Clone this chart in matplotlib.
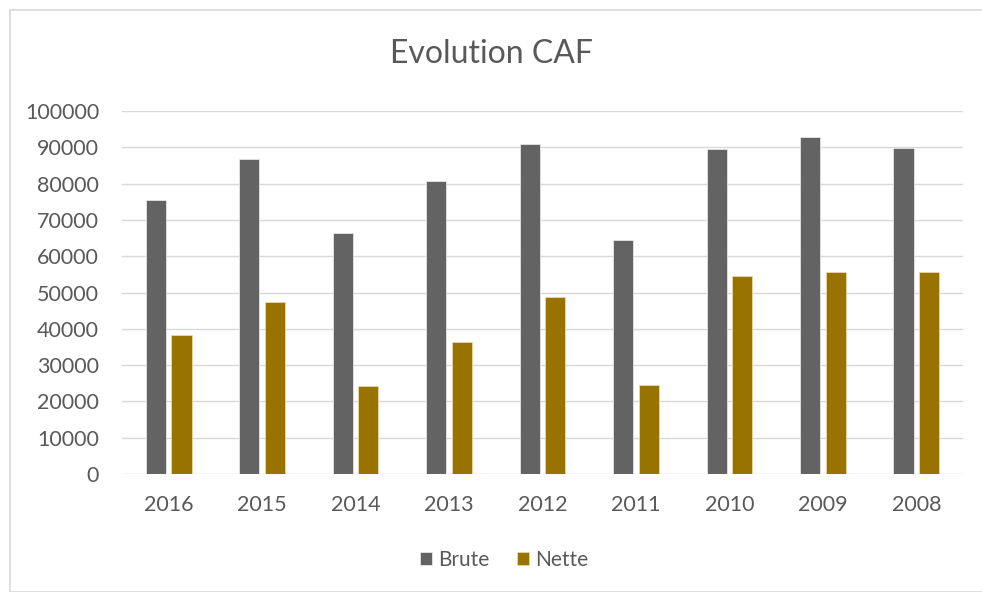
import matplotlib.pyplot as plt
import numpy as np
from matplotlib.patches import Rectangle

years = ['2016', '2015', '2014', '2013', '2012', '2011', '2010', '2009', '2008']
brute = [75600, 86900, 66300, 80600, 90900, 64400, 89400, 92900, 89800]
nette = [38300, 47300, 24200, 36400, 48700, 24600, 54600, 55600, 55600]

plt.rcParams['font.family'] = ['Lato', 'DejaVu Sans']

fig = plt.figure(figsize=(9.82, 5.92), dpi=100)
ax = fig.add_axes([0.1242, 0.1993, 0.8565, 0.6132])

# chart frame
fig.patches.append(Rectangle((10 / 982, 0), 975 / 982, 582 / 592, transform=fig.transFigure,
                             fill=False, edgecolor='#d9d9d9', linewidth=1.2))

x = np.arange(len(years))
w = 0.215
gap = 0.06
ax.bar(x - (w + gap) / 2, brute, width=w, color='#636363', edgecolor='#f0f0f0', linewidth=0.5,
       label='Brute', zorder=3)
ax.bar(x + (w + gap) / 2, nette, width=w, color='#997300', edgecolor='#f0e0b0', linewidth=0.5,
       label='Nette', zorder=3)

ax.set_xlim(-0.5, len(years) - 0.5)
ax.set_ylim(0, 100000)
ax.set_yticks(np.arange(0, 100001, 10000))
ax.set_xticks(x)
ax.set_xticklabels(years)
ax.grid(axis='y', color='#d9d9d9', linewidth=1, zorder=0)
for s in ax.spines.values():
    s.set_visible(False)
ax.tick_params(length=0, labelsize=15.5, labelcolor='#595959')
ax.tick_params(axis='y', pad=16.5)
ax.tick_params(axis='x', pad=15)

fig.text(0.5, 1 - 63 / 592, 'Evolution CAF', ha='center', va='baseline', fontsize=23, color='#595959')

ax.legend(loc='center', bbox_to_anchor=(504 / 982, 1 - 560 / 592), bbox_transform=fig.transFigure,
          ncol=2, frameon=False, fontsize=15, labelcolor='#595959', handlelength=0.6,
          handleheight=0.6, handletextpad=0.3, columnspacing=1.3)

fig.savefig('out.png', dpi=100)
